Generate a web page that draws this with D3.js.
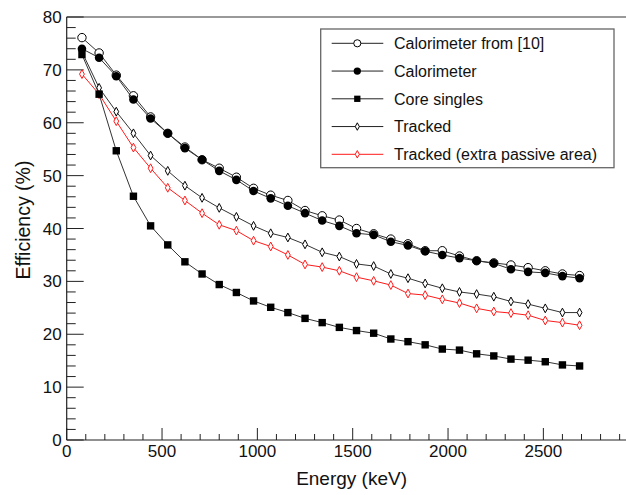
<!DOCTYPE html>
<html>
<head>
<meta charset="utf-8">
<script src="https://cdn.jsdelivr.net/npm/d3@7"></script>
<style>
  body { margin: 0; background: #fff; }
  svg { display: block; font-family: "Liberation Sans", Arial, sans-serif; }
</style>
</head>
<body>
<div id="chart"></div>
<script>
// energies (keV)
const energies = [80, 170, 260, 350, 440, 530, 620, 710, 800, 890,
  980, 1070, 1160, 1250, 1340, 1430, 1520, 1610, 1700, 1790,
  1880, 1970, 2060, 2150, 2240, 2330, 2420, 2510, 2600, 2690];

const calorimeterRef = [76.1, 73.2, 69.0, 65.1, 61.1, 58.0, 55.4, 53.0, 51.4, 49.7,
  47.6, 46.3, 45.3, 43.4, 42.4, 41.6, 40.0, 39.0, 38.0, 37.1,
  35.8, 35.8, 34.8, 33.9, 33.5, 33.1, 32.6, 32.0, 31.4, 31.1];
const calorimeter = [74.0, 72.3, 68.8, 64.4, 60.8, 58.0, 55.2, 53.0, 50.9, 49.2,
  47.1, 45.7, 44.3, 42.9, 41.5, 40.5, 39.1, 38.8, 37.5, 36.8,
  35.7, 35.0, 34.4, 33.9, 33.4, 32.3, 31.8, 31.6, 31.0, 30.6];
const coreSingles = [72.9, 65.4, 54.7, 46.1, 40.5, 36.9, 33.7, 31.4, 29.4, 27.9,
  26.3, 25.1, 24.1, 23.0, 22.2, 21.3, 20.7, 20.2, 19.1, 18.6,
  18.0, 17.2, 17.0, 16.3, 15.9, 15.3, 15.1, 14.8, 14.2, 14.0];
const tracked = [73.4, 66.6, 62.1, 58.0, 53.8, 50.9, 48.1, 45.8, 43.9, 42.2,
  40.5, 39.1, 38.3, 37.0, 35.5, 34.7, 33.3, 32.9, 31.4, 30.6,
  29.6, 28.7, 28.0, 27.6, 27.1, 26.2, 25.7, 24.9, 24.1, 24.1];
const trackedExtra = [69.2, 65.4, 60.3, 55.3, 51.4, 47.7, 45.3, 42.9, 40.7, 39.6,
  37.7, 36.6, 35.0, 33.2, 32.7, 32.0, 30.8, 30.1, 29.3, 27.7,
  27.4, 26.6, 25.9, 24.9, 24.3, 24.0, 23.6, 22.6, 22.2, 21.7];

const series = [
  { name: 'Calorimeter from [10]', values: calorimeterRef, marker: 'openCircle', color: '#000' },
  { name: 'Calorimeter', values: calorimeter, marker: 'circle', color: '#000' },
  { name: 'Core singles', values: coreSingles, marker: 'square', color: '#000' },
  { name: 'Tracked', values: tracked, marker: 'diamond', color: '#000' },
  { name: 'Tracked (extra passive area)', values: trackedExtra, marker: 'diamond', color: '#ff1a1a' }
];

const yTicks = [0, 10, 20, 30, 40, 50, 60, 70, 80];
const xTicks = [0, 500, 1000, 1500, 2000, 2500];

const width = 626, height = 495;
const svg = d3.select('#chart').append('svg')
  .attr('width', width)
  .attr('height', height);

const x = d3.scaleLinear().domain([0, 3000]).range([66.7, 638.7]);
const y = d3.scaleLinear().domain([0, 80]).range([440, 17]);

// frame
svg.append('line')
  .attr('x1', x(0)).attr('x2', width)
  .attr('y1', y(80)).attr('y2', y(80))
  .attr('stroke', '#777').attr('stroke-width', 1.5);

// y axis: ticks pointing inward
const yAxis = svg.append('g').attr('transform', `translate(${x(0)},0)`);
yAxis.append('line')
  .attr('y1', y(0)).attr('y2', y(80))
  .attr('stroke', '#222').attr('stroke-width', 1.2);
yAxis.selectAll('.minor')
  .data(d3.range(0, 81, 2))
  .enter().append('line')
  .attr('x1', 0)
  .attr('x2', d => d % 10 === 0 ? 17 : 9)
  .attr('y1', d => y(d)).attr('y2', d => y(d))
  .attr('stroke', '#222').attr('stroke-width', 1);
yAxis.selectAll('.lbl')
  .data(yTicks)
  .enter().append('text')
  .attr('x', -5)
  .attr('y', d => y(d))
  .attr('dy', '0.36em')
  .attr('text-anchor', 'end')
  .style('font-size', '17px')
  .attr('fill', '#111')
  .text(d => d);

// x axis: ticks pointing upward
const xAxis = svg.append('g').attr('transform', `translate(0,${y(0)})`);
xAxis.append('line')
  .attr('x1', x(0)).attr('x2', width)
  .attr('stroke', '#222').attr('stroke-width', 1.2);
xAxis.selectAll('.minor')
  .data(d3.range(0, 3001, 100))
  .enter().append('line')
  .attr('x1', d => x(d)).attr('x2', d => x(d))
  .attr('y1', 0)
  .attr('y2', d => d % 500 === 0 ? -12 : -6)
  .attr('stroke', '#222').attr('stroke-width', 1);
xAxis.selectAll('.lbl')
  .data(xTicks)
  .enter().append('text')
  .attr('x', d => x(d))
  .attr('y', 17)
  .attr('text-anchor', 'middle')
  .style('font-size', '17px')
  .attr('fill', '#111')
  .text(d => d);

// axis titles
svg.append('text')
  .attr('x', 407).attr('y', 485)
  .attr('text-anchor', 'end')
  .style('font-size', '19px')
  .attr('fill', '#111')
  .text('Energy (keV)');
svg.append('text')
  .attr('transform', 'translate(29.5,220) rotate(-90)')
  .attr('text-anchor', 'middle')
  .style('font-size', '19.5px')
  .attr('fill', '#111')
  .text('Efficiency (%)');

// marker drawing helper
function drawMarker(sel, type, color, s) {
  if (type === 'openCircle') {
    sel.append('circle').attr('r', 4.2 * s)
      .attr('fill', '#fff').attr('stroke', color).attr('stroke-width', 1);
  } else if (type === 'circle') {
    sel.append('circle').attr('r', 4.3 * s).attr('fill', color);
  } else if (type === 'square') {
    const a = 7.4 * s;
    sel.append('rect').attr('x', -a / 2).attr('y', -a / 2)
      .attr('width', a).attr('height', a).attr('fill', color);
  } else if (type === 'diamond') {
    const w = 2.4 * s, h = 4.4 * s;
    sel.append('path')
      .attr('d', `M0,${-h}L${w},0L0,${h}L${-w},0Z`)
      .attr('fill', '#fff').attr('stroke', color).attr('stroke-width', 1);
  }
}

const line = d3.line()
  .x((d, i) => x(energies[i]))
  .y(d => y(d));

// draw bottom series first so circles end on top
const drawOrder = [4, 3, 2, 0, 1];
drawOrder.forEach(k => {
  const s = series[k];
  const g = svg.append('g');
  g.append('path')
    .datum(s.values)
    .attr('d', line)
    .attr('fill', 'none')
    .attr('stroke', s.color === '#000' ? '#333' : s.color)
    .attr('stroke-width', 1);
  g.selectAll('.pt')
    .data(s.values)
    .enter().append('g')
    .attr('transform', (d, i) => `translate(${x(energies[i])},${y(d)})`)
    .each(function () { drawMarker(d3.select(this), s.marker, s.color, 1); });
});

// legend
const legend = svg.append('g');
legend.append('rect')
  .attr('x', 320.7).attr('y', 29)
  .attr('width', 293.3).attr('height', 138.7)
  .attr('fill', '#fff')
  .attr('stroke', '#666').attr('stroke-width', 1.3);
series.forEach((s, i) => {
  const cy = 43.3 + i * 27.75;
  const row = legend.append('g').attr('transform', `translate(0,${cy})`);
  row.append('line')
    .attr('x1', 331.7).attr('x2', 383.3)
    .attr('stroke', s.color === '#000' ? '#222' : s.color)
    .attr('stroke-width', 1);
  const m = row.append('g').attr('transform', 'translate(357.3,0)');
  drawMarker(m, s.marker, s.color, 0.85);
  row.append('text')
    .attr('x', 394).attr('y', 0)
    .attr('dy', '0.36em')
    .style('font-size', '16px')
    .attr('fill', '#111')
    .text(s.name);
});
</script>
</body>
</html>
